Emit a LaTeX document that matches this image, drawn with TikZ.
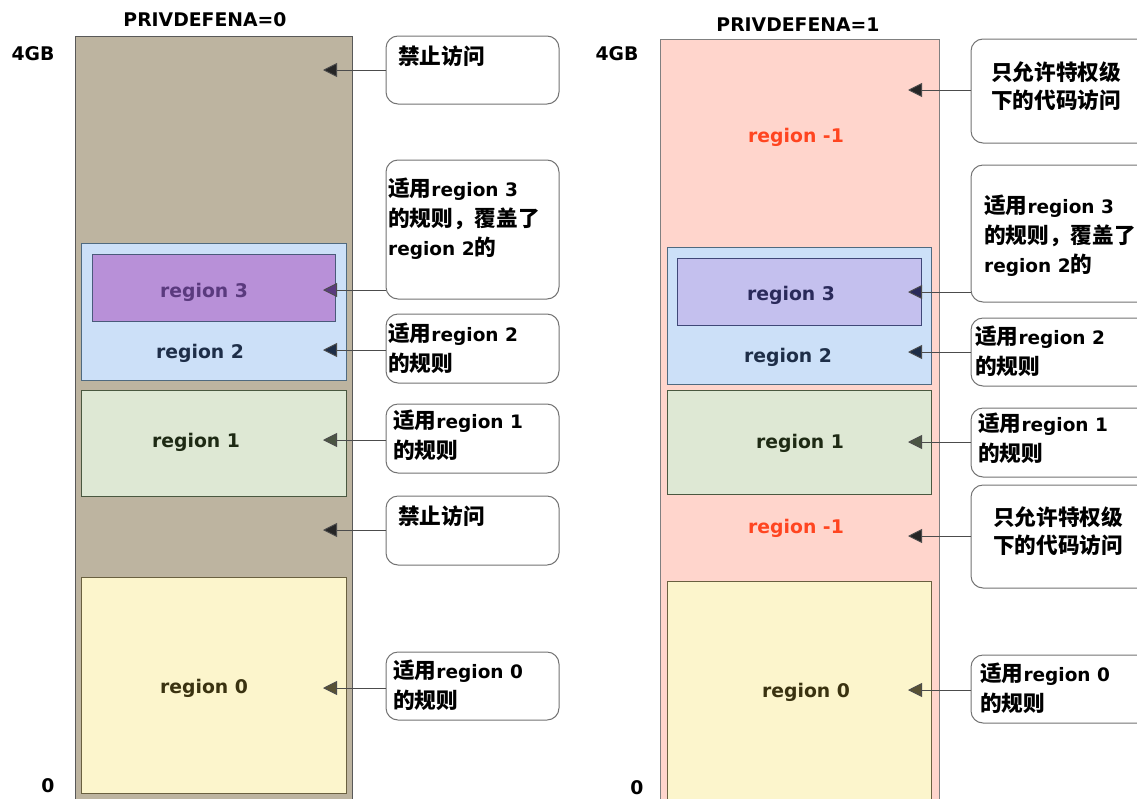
\documentclass[tikz,border=0pt]{standalone}
\usepackage{fontspec}
\setmainfont{DejaVu Sans}
\newfontfamily\cjk{Noto Sans CJK SC}[Scale=1.17]
\newcommand\zh[1]{{\cjk #1}}
\usetikzlibrary{arrows.meta}
\definecolor{lout}{HTML}{BDB4A0}
\definecolor{rout}{HTML}{FFD5CC}
\definecolor{bluef}{HTML}{CCE0F8}
\definecolor{blued}{HTML}{4F6A80}
\definecolor{purf}{HTML}{B890D8}
\definecolor{purd}{HTML}{4A5A7A}
\definecolor{rpurf}{HTML}{C4C0EE}
\definecolor{rpurd}{HTML}{404878}
\definecolor{grnf}{HTML}{DEE8D4}
\definecolor{grnd}{HTML}{4A5840}
\definecolor{yelf}{HTML}{FCF5CC}
\definecolor{yeld}{HTML}{6A6040}
\definecolor{tpur}{HTML}{5A3A7E}
\definecolor{tnavy}{HTML}{1E2E48}
\definecolor{tgrn}{HTML}{1E2A14}
\definecolor{tyel}{HTML}{3A3210}
\definecolor{trp}{HTML}{2A2A5A}
\definecolor{tred}{HTML}{FF4520}
\begin{document}
\begin{tikzpicture}[x=1pt,y=-1pt,
 lbl/.style={font=\fontsize{18.8}{22}\selectfont\bfseries, inner sep=0},
 callbox/.style={draw=black!55, fill=white, rounded corners=12pt, line width=1pt, anchor=north west, inner sep=0, outer sep=0},
 ctext/.style={anchor=north west, align=left, inner sep=0, font=\fontsize{18.5}{29.5}\selectfont\bfseries},
 arr/.style={draw=black!70, line width=0.9pt, -{Triangle[length=14pt,width=14pt,#1]}},
 arr/.default={fill=black!85},
 regbox/.style={line width=1pt, anchor=north west, inner sep=0, outer sep=0}
]
\useasboundingbox (0,0) rectangle (1137,798);

% ---------------- left column ----------------
\node[lbl] (t0) at (205,20) {PRIVDEFENA=0};
\node[lbl] (g0) at (33,54) {4GB};
\node[lbl] (z0) at (48,786) {0};

\node[regbox, draw=black!65, fill=lout, minimum width=277, minimum height=780] (Lout) at (75,36) {};
\node[regbox, draw=blued, fill=bluef, minimum width=265, minimum height=137] (L2) at (81,243) {};
\node[regbox, draw=purd, fill=purf, minimum width=243, minimum height=67] (L3) at (92,254) {};
\node[regbox, draw=grnd, fill=grnf, minimum width=265, minimum height=106] (L1) at (81,390) {};
\node[regbox, draw=yeld, fill=yelf, minimum width=265, minimum height=216] (L0) at (81,577) {};

\node[lbl, text=tpur] (l3t) at (204,292) {region 3};
\node[lbl, text=tnavy] (l2t) at (200,353) {region 2};
\node[lbl, text=tgrn] (l1t) at (196,442) {region 1};
\node[lbl, text=tyel] (l0t) at (204,688) {region 0};

\node[callbox, minimum width=173, minimum height=68] (LC1) at (386,36) {};
\node[callbox, minimum width=173, minimum height=139] (LC2) at (386,160) {};
\node[callbox, minimum width=173, minimum height=69] (LC3) at (386,314) {};
\node[callbox, minimum width=173, minimum height=69] (LC4) at (386,404) {};
\node[callbox, minimum width=173, minimum height=69] (LC5) at (386,496) {};
\node[callbox, minimum width=173, minimum height=68] (LC6) at (386,652) {};

\node[ctext] (LT1) at (398,46) {\zh{禁止访问}};
\node[ctext] (LT2) at (388,178) {\zh{适用}region 3\\\zh{的规则，覆盖了}\\region 2\zh{的}};
\node[ctext] (LT3) at (388,323) {\zh{适用}region 2\\\zh{的规则}};
\node[ctext] (LT4) at (393,410) {\zh{适用}region 1\\\zh{的规则}};
\node[ctext] (LT5) at (398,506) {\zh{禁止访问}};
\node[ctext] (LT6) at (393,660) {\zh{适用}region 0\\\zh{的规则}};

\coordinate (La1) at (323,70);
\coordinate (La2) at (323,290);
\coordinate (La3) at (323,350);
\coordinate (La4) at (323,440);
\coordinate (La5) at (323,530);
\coordinate (La6) at (323,688);
\draw[arr] (La1 -| LC1.west) -- (La1);
\draw[arr={fill=tpur}] (La2 -| LC2.west) -- (La2);
\draw[arr={fill=tnavy}] (La3 -| LC3.west) -- (La3);
\draw[arr={fill=tgrn!80}] (La4 -| LC4.west) -- (La4);
\draw[arr={fill=black!85}] (La5 -| LC5.west) -- (La5);
\draw[arr={fill=tyel!85}] (La6 -| LC6.west) -- (La6);

% ---------------- right column ----------------
\node[lbl] (t1) at (798,25) {PRIVDEFENA=1};
\node[lbl] (g1) at (617,54) {4GB};
\node[lbl] (z1) at (637,788) {0};

\node[regbox, draw=black!50, fill=rout, minimum width=279, minimum height=780] (Rout) at (660,39) {};
\node[regbox, draw=blued, fill=bluef, minimum width=264, minimum height=137] (R2) at (667,247) {};
\node[regbox, draw=rpurd, fill=rpurf, minimum width=244, minimum height=67] (R3) at (677,258) {};
\node[regbox, draw=grnd, fill=grnf, minimum width=264, minimum height=104] (R1) at (667,390) {};
\node[regbox, draw=yeld, fill=yelf, minimum width=264, minimum height=230] (R0) at (667,581) {};

\node[lbl, text=tred] (rm1a) at (796,137) {region -1};
\node[lbl, text=trp] (r3t) at (791,295) {region 3};
\node[lbl, text=tnavy] (r2t) at (788,357) {region 2};
\node[lbl, text=tgrn] (r1t) at (800,443) {region 1};
\node[lbl, text=tred] (rm1b) at (796,528) {region -1};
\node[lbl, text=tyel] (r0t) at (806,692) {region 0};

\node[callbox, minimum width=180, minimum height=104] (RC1) at (971,39) {};
\node[callbox, minimum width=180, minimum height=137] (RC2) at (971,165) {};
\node[callbox, minimum width=180, minimum height=68] (RC3) at (971,318) {};
\node[callbox, minimum width=180, minimum height=69] (RC4) at (971,408) {};
\node[callbox, minimum width=180, minimum height=103] (RC5) at (971,485) {};
\node[callbox, minimum width=180, minimum height=68] (RC6) at (971,655) {};

\node[ctext, font=\fontsize{18.5}{28}\selectfont\bfseries] (RT1) at (991,62) {\zh{只允许特权级}\\\zh{下的代码访问}};
\node[ctext] (RT2) at (984,195) {\zh{适用}region 3\\\zh{的规则，覆盖了}\\region 2\zh{的}};
\node[ctext] (RT3) at (975,326) {\zh{适用}region 2\\\zh{的规则}};
\node[ctext] (RT4) at (978,413) {\zh{适用}region 1\\\zh{的规则}};
\node[ctext, font=\fontsize{18.5}{28}\selectfont\bfseries] (RT5) at (993,507) {\zh{只允许特权级}\\\zh{下的代码访问}};
\node[ctext] (RT6) at (980,663) {\zh{适用}region 0\\\zh{的规则}};

\coordinate (Ra1) at (908,90);
\coordinate (Ra2) at (908,292);
\coordinate (Ra3) at (908,352);
\coordinate (Ra4) at (908,442);
\coordinate (Ra5) at (908,536);
\coordinate (Ra6) at (908,690);
\draw[arr] (Ra1 -| RC1.west) -- (Ra1);
\draw[arr={fill=trp}] (Ra2 -| RC2.west) -- (Ra2);
\draw[arr={fill=tnavy}] (Ra3 -| RC3.west) -- (Ra3);
\draw[arr={fill=tgrn!80}] (Ra4 -| RC4.west) -- (Ra4);
\draw[arr={fill=black!85}] (Ra5 -| RC5.west) -- (Ra5);
\draw[arr={fill=tyel!85}] (Ra6 -| RC6.west) -- (Ra6);
\end{tikzpicture}
\end{document}
